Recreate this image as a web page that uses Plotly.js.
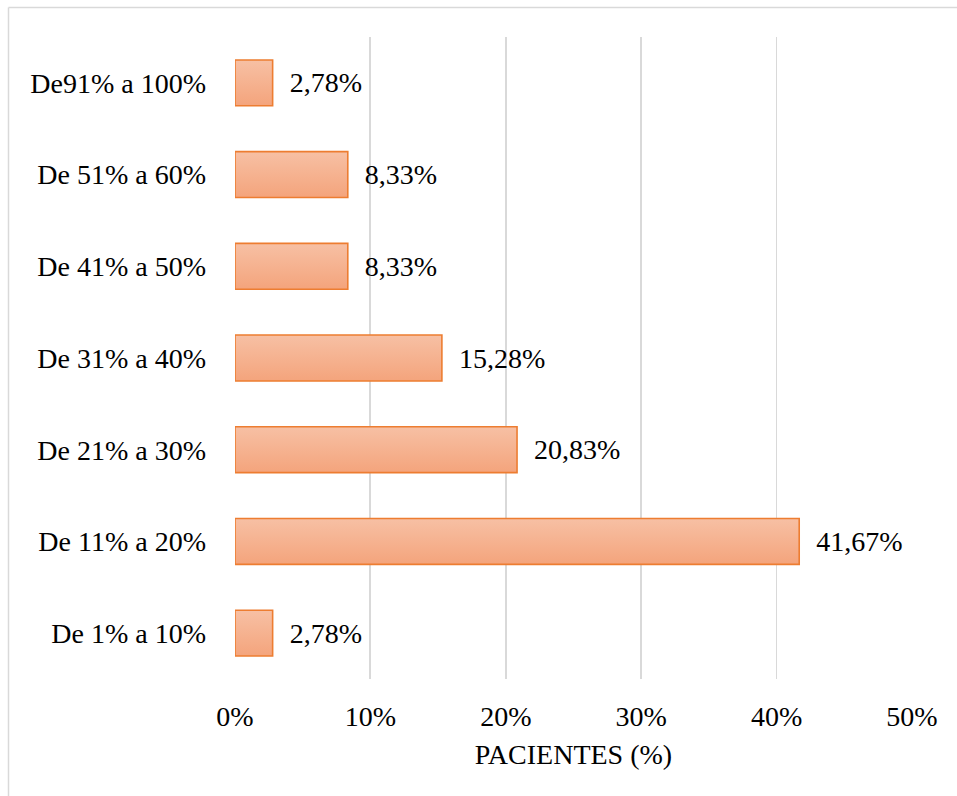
<!DOCTYPE html>
<html><head><meta charset="utf-8">
<script src="https://cdn.plot.ly/plotly-3.0.1.min.js"></script>
<style>html,body{margin:0;padding:0;background:#fff}#chart{width:957px;height:796px}</style>
</head><body><div id="chart"></div>
<script>
const categories = ["De 1% a 10%","De 11% a 20%","De 21% a 30%","De 31% a 40%","De 41% a 50%","De 51% a 60%","De91% a 100%"];
const values = [2.78, 41.67, 20.83, 15.28, 8.33, 8.33, 2.78];
const xTickVals = [0,10,20,30,40,50];
const xTickText = ["0%","10%","20%","30%","40%","50%"];

const font = {family: '"Liberation Serif","Times New Roman",serif', color: '#000', size: 28};

const trace = {
  type: 'bar', orientation: 'h',
  y: categories, x: values,
  width: 0.5,
  marker: {color: '#F5B190', line: {color: '#ED7D31', width: 1.6}},
  texttemplate: '\u00a0\u00a0%{x:.2f}%',
  textposition: 'outside', cliponaxis: false,
  textfont: font, hoverinfo: 'skip'
};

const layout = {
  width: 957, height: 796,
  margin: {l: 235, r: 45, t: 37, b: 117},
  separators: ',.',
  font: font,
  paper_bgcolor: '#fff', plot_bgcolor: '#fff',
  showlegend: false,
  xaxis: {range: [0, 50], tickvals: xTickVals, ticktext: xTickText,
    showgrid: true, gridcolor: '#d9d9d9', gridwidth: 1.8, zeroline: false, showline: false,
    ticks: '', ticklabelstandoff: 18, tickfont: font,
    title: {text: 'PACIENTES (%)', font: font, standoff: 13}},
  yaxis: {type: 'category', showgrid: false, zeroline: false, showline: false,
    ticks: '', ticklabelstandoff: 28, tickfont: font},
  shapes: [
    {type: 'line', xref: 'paper', yref: 'paper',
     x0: (8.5-235)/677, x1: (8.5-235)/677, y0: -(800-679)/642, y1: 1+(37-7.5)/642,
     line: {color: '#d9d9d9', width: 1.5}, layer: 'below'},
    {type: 'line', xref: 'paper', yref: 'paper',
     x0: (8.5-235)/677, x1: (960-235)/677, y0: 1+(37-7.5)/642, y1: 1+(37-7.5)/642,
     line: {color: '#d9d9d9', width: 1.5}, layer: 'below'}
  ]
};

Plotly.newPlot('chart', [trace], layout, {displayModeBar: false, staticPlot: true}).then(gd => {
  const svg = gd.querySelector('svg.main-svg');
  const ns = 'http://www.w3.org/2000/svg';
  let defs = svg.querySelector('defs');
  if (!defs) { defs = document.createElementNS(ns, 'defs'); svg.insertBefore(defs, svg.firstChild); }
  const g = document.createElementNS(ns, 'linearGradient');
  g.setAttribute('id', 'barGrad');
  g.setAttribute('x1', '0'); g.setAttribute('y1', '0'); g.setAttribute('x2', '0'); g.setAttribute('y2', '1');
  [['0', '#F7C0A4'], ['1', '#F4A47C']].forEach(([o, c]) => {
    const s = document.createElementNS(ns, 'stop');
    s.setAttribute('offset', o); s.setAttribute('stop-color', c);
    g.appendChild(s);
  });
  defs.appendChild(g);
  gd.querySelectorAll('.barlayer .point path').forEach(p => { p.style.fill = 'url(#barGrad)'; });
});
</script></body></html>
